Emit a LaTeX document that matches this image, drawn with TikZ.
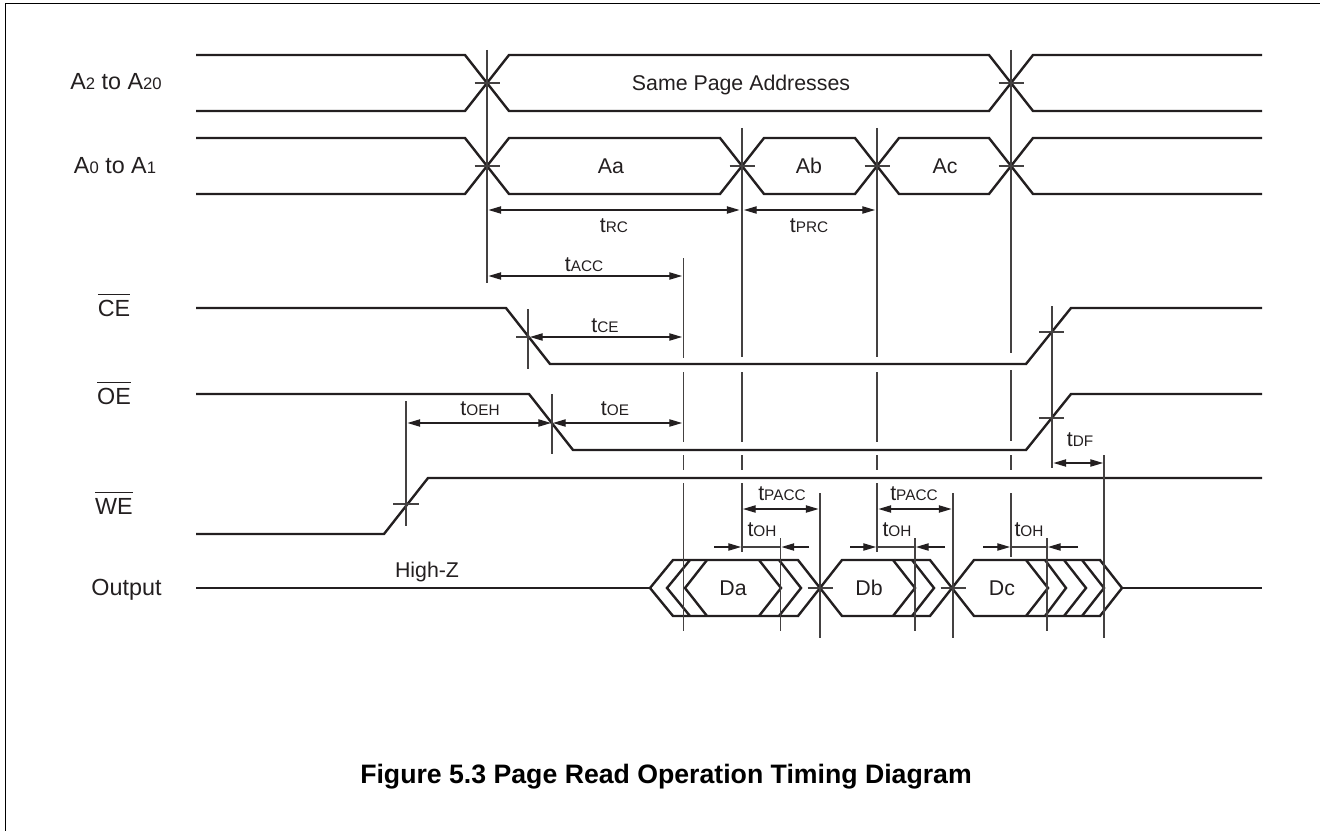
\documentclass[tikz,border=0pt]{standalone}
\usepackage{fontspec}
\setmainfont{Liberation Sans}
\usetikzlibrary{arrows.meta}
\definecolor{ink}{HTML}{231F20}
\newcommand\Tsm[2]{#1{\fontsize{11.5pt}{12pt}\selectfont #2}}
\newcommand\Lsm[1]{{\fontsize{12.5pt}{13pt}\selectfont #1}}
\newcommand\Ovl[1]{\setbox0=\hbox{#1}\rlap{\raisebox{15.8pt}{\rule{\wd0}{0.7pt}}}\box0 }
\tikzset{
  sig/.style={line width=1.8pt,draw=ink,line join=miter},
  thinln/.style={line width=0.8pt,draw=ink!85},
  dimarrow/.style={line width=0.8pt,draw=ink,{Triangle[length=9.5pt,width=5.5pt]}-{Triangle[length=9.5pt,width=5.5pt]}},
  toarrow/.style={line width=0.8pt,draw=ink,-{Triangle[length=9.5pt,width=5.5pt]}},
  txt/.style={anchor=base,inner sep=0pt,outer sep=0pt,text=ink,font=\fontsize{16pt}{18pt}\selectfont},
  siglab/.style={txt,font=\fontsize{17.5pt}{19pt}\selectfont},
  frameln/.style={line width=0.9pt,draw=black},
}
\begin{document}
\begin{tikzpicture}[x=0.75pt,y=-0.75pt]
\useasboundingbox (0,0) rectangle (1320,831);
% frame
\draw[frameln] (5.5,831) -- (5.5,3.5) -- (1320,3.5);
% A2 to A20
\draw[sig] (196,55) -- (465,55) -- (509,111) -- (989,111) -- (1033,55) -- (1262,55);
\draw[sig] (196,111) -- (465,111) -- (509,55) -- (989,55) -- (1033,111) -- (1262,111);
% A0 to A1
\draw[sig] (196,138) -- (465,138) -- (509,194) -- (720,194) -- (764,138) -- (855,138) -- (899,194) -- (989,194) -- (1033,138) -- (1262,138);
\draw[sig] (196,194) -- (465,194) -- (509,138) -- (720,138) -- (764,194) -- (855,194) -- (899,138) -- (989,138) -- (1033,194) -- (1262,194);
% CE, OE, WE
\draw[sig] (196,308) -- (506,308) -- (550,364) -- (1026,364) -- (1071,308) -- (1262,308);
\draw[sig] (196,394) -- (529,394) -- (573,450) -- (1026,450) -- (1071,394) -- (1262,394);
\draw[sig] (196,534) -- (384,534) -- (428,478) -- (1262,478);
% Output
\draw[sig] (196,588) -- (650,588);
\draw[sig] (1122,588) -- (1262,588);
\draw[sig] (673,560) -- (798,560) -- (842,616) -- (930,616) -- (974,560) -- (1100,560) -- (1122,588) -- (1100,616) -- (974,616) -- (930,560) -- (842,560) -- (798,616) -- (673,616) -- (650,588) -- cycle;
\foreach \a/\b in {690/667,707/685,759/781,779/801,893/915,912/934,1026/1048,1045/1066,1064/1086,1082/1104}
  \draw[sig] (\a,560) -- (\b,588) -- (\a,616);
% vertical guides
\draw[thinln] (487,50) -- (487,283);
\draw[thinln] (1011,50) -- (1011,353) (1011,370) -- (1011,441) (1011,455) -- (1011,470) (1011,493) -- (1011,557);
\foreach \x in {742,877}
  \draw[thinln] (\x,128) -- (\x,357) (\x,372) -- (\x,442) (\x,455) -- (\x,470) (\x,483) -- (\x,552);
\draw[thinln] (683.5,258) -- (683.5,358) (683.5,372) -- (683.5,442) (683.5,455) -- (683.5,470) (683.5,483) -- (683.5,631);
\draw[thinln] (528,309) -- (528,369);
\draw[thinln] (552,394) -- (552,454);
\draw[thinln] (406,401) -- (406,526);
\draw[thinln] (1052,306) -- (1052,468);
\draw[thinln] (1104,455) -- (1104,638);
\draw[thinln] (820,493) -- (820,638);
\draw[thinln] (953,493) -- (953,638);
\draw[thinln] (780.5,538) -- (780.5,631);
\draw[thinln] (915,538) -- (915,631);
\draw[thinln] (1047,538) -- (1047,631);
% crossing ticks
\foreach \x/\y in {487/83,487/166,742/166,877/166,1011/83,1011/166,820/588,953/588}
  \draw[thinln] (\x-12.5,\y) -- (\x+12.5,\y);
\draw[thinln] (1039,332) -- (1064,332);
\draw[thinln] (1039,418) -- (1064,418);
\draw[thinln] (393,504) -- (419,504);
\draw[thinln] (516,337) -- (530,337);
% dimension arrows
\draw[dimarrow] (488.5,210) -- (739.5,210);
\draw[dimarrow] (744,210) -- (875,210);
\draw[dimarrow] (488.5,276) -- (682,276);
\draw[dimarrow] (530,337) -- (682,337);
\draw[dimarrow] (407.5,423) -- (551,423);
\draw[dimarrow] (553,423) -- (682,423);
\draw[dimarrow] (1053.5,463) -- (1103,463);
\draw[dimarrow] (743,509) -- (818.5,509);
\draw[dimarrow] (878.5,509) -- (951.5,509);
\draw[toarrow] (714,547) -- (741,547);
\draw[thinln] (741,547) -- (781,547);
\draw[toarrow] (809,547) -- (781.5,547);
\draw[toarrow] (850,547) -- (876,547);
\draw[thinln] (877,547) -- (915,547);
\draw[toarrow] (945,547) -- (916,547);
\draw[toarrow] (983,547) -- (1010,547);
\draw[thinln] (1011,547) -- (1047,547);
\draw[toarrow] (1078,547) -- (1048,547);
% signal labels
\node[siglab] (lA2) at (116,90) {A\Lsm{2} to A\Lsm{20}};
\node[siglab] (lA0) at (115,174) {A\Lsm{0} to A\Lsm{1}};
\node[siglab] (lCE) at (114,316) {\Ovl{CE}};
\node[siglab] (lOE) at (114,404) {\Ovl{OE}};
\node[siglab] (lWE) at (114,514) {\Ovl{WE}};
\node[siglab] (lOut) at (126.5,595) {Output};
% bus labels
\node[txt] (same) at (741,91) {Same Page Addresses};
\node[txt] (aa) at (611,174) {Aa};
\node[txt] (ab) at (809,174) {Ab};
\node[txt] (ac) at (945,174) {Ac};
\node[txt] (hz) at (427,577) {High-Z};
\node[txt] (da) at (733,595) {Da};
\node[txt] (db) at (869,595) {Db};
\node[txt] (dc) at (1002,595) {Dc};
% timing labels
\node[txt] (trc) at (614,232) {\Tsm{t}{RC}};
\node[txt] (tprc) at (809,232) {\Tsm{t}{PRC}};
\node[txt] (tacc) at (584,271) {\Tsm{t}{ACC}};
\node[txt] (tce) at (605,332) {\Tsm{t}{CE}};
\node[txt] (toeh) at (480,415) {\Tsm{t}{OEH}};
\node[txt] (toe) at (615,415) {\Tsm{t}{OE}};
\node[txt] (tdf) at (1080,446) {\Tsm{t}{DF}};
\node[txt] (tpa) at (782,500) {\Tsm{t}{PACC}};
\node[txt] (tpb) at (914,500) {\Tsm{t}{PACC}};
\node[txt] (toa) at (762,536) {\Tsm{t}{OH}};
\node[txt] (tob) at (897,536) {\Tsm{t}{OH}};
\node[txt] (toc) at (1029,536) {\Tsm{t}{OH}};
% caption
\node[anchor=base,inner sep=0pt,text=black,font=\fontsize{20pt}{22pt}\selectfont\bfseries] (cap) at (666,783) {Figure 5.3 Page Read Operation Timing Diagram};
\end{tikzpicture}
\end{document}
